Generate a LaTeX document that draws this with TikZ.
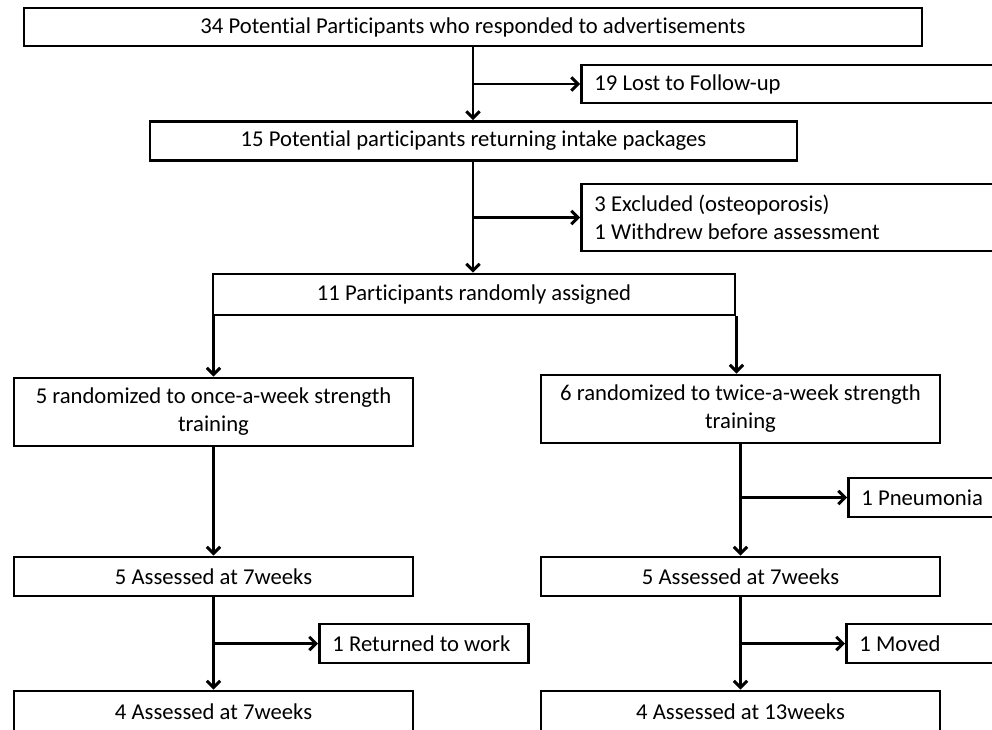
\documentclass[tikz,border=0pt]{standalone}
\usepackage{fontspec}
\setmainfont{Carlito}[Ligatures=NoCommon]
\usetikzlibrary{arrows.meta}
\begin{document}
\begin{tikzpicture}[x=0.75pt,y=-0.75pt,line width=2.2pt,
    box/.style={draw,inner sep=0pt,align=center,font=\fontsize{17}{21}\selectfont},
    sidebox/.style={box,anchor=west,inner xsep=9.75pt,text width=304pt,align=flush left},
    arr/.style={-{Straight Barb[length=5pt,width=10pt]}}]
  \useasboundingbox (0,0) rectangle (992,729);
  \clip (0,0) rectangle (992,729);
  \node[box,minimum width=673.5pt,minimum height=28.5pt] (resp) at (473,27)
    {34 Potential Participants who responded to advertisements};
  \node[sidebox,minimum height=28.5pt] (lost) at (580,84) {19 Lost to Follow-up};
  \node[box,minimum width=485.25pt,minimum height=29.25pt] (intake) at (473.5,141)
    {15 Potential participants returning intake packages};
  \node[sidebox,minimum height=50.25pt] (excl) at (580,217.5)
    {3 Excluded (osteoporosis)\\1 Withdrew before assessment};
  \node[box,minimum width=391.5pt,minimum height=30.75pt] (rand) at (474,294.5)
    {11 Participants randomly assigned};
  \node[box,minimum width=299.25pt,minimum height=51pt] (once) at (213.5,412)
    {5 randomized to once-a-week strength\\training};
  \node[box,minimum width=299.25pt,minimum height=51pt] (twice) at (740.5,409)
    {6 randomized to twice-a-week strength\\training};
  \node[sidebox,minimum height=29.25pt] (pneu) at (847,497.5) {1 Pneumonia};
  \node[box,minimum width=299.25pt,minimum height=29.25pt] (onceA) at (213.5,576.5)
    {5 Assessed at 7weeks};
  \node[box,minimum width=299.25pt,minimum height=29.25pt] (twiceA) at (740.5,576.5)
    {5 Assessed at 7weeks};
  \node[sidebox,text width=137.25pt,minimum height=29.25pt] (work) at (318,643.5)
    {1 Returned to work};
  \node[sidebox,minimum height=29.25pt] (moved) at (845,643.5) {1 Moved};
  \node[box,minimum width=299.25pt,minimum height=31.5pt] (onceB) at (213.5,712)
    {4 Assessed at 7weeks};
  \node[box,minimum width=299.25pt,minimum height=31.5pt] (twiceB) at (740.5,712)
    {4 Assessed at 13weeks};
  \draw[arr] (resp.south) -- (resp.south |- intake.north);
  \draw[arr] (resp.south |- lost.west) -- (lost.west);
  \draw[arr] (resp.south |- intake.south) -- (resp.south |- rand.north);
  \draw[arr] (resp.south |- excl.west) -- (excl.west);
  \draw[arr] (once.north |- rand.south) -- (once.north);
  \draw[arr] (rand.south east) -- (rand.south east |- twice.north);
  \draw[arr] (once.south) -- (onceA.north);
  \draw[arr] (twice.south) -- (twiceA.north);
  \draw[arr] (twice.south |- pneu.west) -- (pneu.west);
  \draw[arr] (onceA.south) -- (onceB.north);
  \draw[arr] (onceA.south |- work.west) -- (work.west);
  \draw[arr] (twiceA.south) -- (twiceB.north);
  \draw[arr] (twiceA.south |- moved.west) -- (moved.west);
\end{tikzpicture}
\end{document}
